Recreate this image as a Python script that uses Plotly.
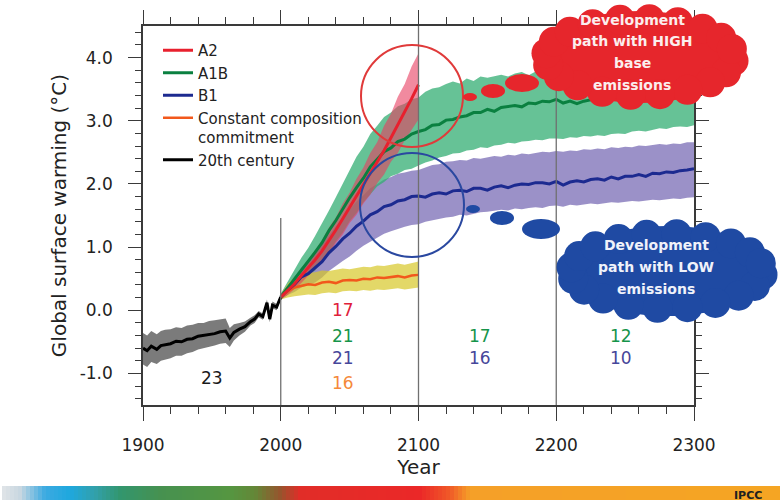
import math
import plotly.graph_objects as go

# ---------------- data ----------------
years_20c = [1900, 1903, 1906, 1910, 1913, 1916, 1920, 1924, 1928, 1932, 1936, 1940, 1944, 1948, 1952,
             1956, 1960, 1963, 1966, 1970, 1974, 1978, 1981, 1984, 1987, 1990, 1992, 1994, 1997, 2000]
c20 = [-0.60, -0.64, -0.57, -0.62, -0.56, -0.55, -0.53, -0.49, -0.50, -0.46, -0.45, -0.41, -0.40, -0.38, -0.37,
       -0.34, -0.33, -0.44, -0.35, -0.30, -0.26, -0.18, -0.14, -0.06, -0.10, 0.12, -0.14, 0.08, 0.05, 0.21]
c20_hi = [-0.36, -0.40, -0.33, -0.38, -0.33, -0.31, -0.30, -0.27, -0.28, -0.24, -0.23, -0.20, -0.20, -0.17, -0.16,
          -0.14, -0.13, -0.28, -0.22, -0.20, -0.18, -0.12, -0.08, -0.01, -0.05, 0.17, -0.09, 0.14, 0.10, 0.25]
c20_lo = [-0.86, -0.90, -0.82, -0.85, -0.80, -0.78, -0.76, -0.72, -0.72, -0.68, -0.66, -0.62, -0.60, -0.58, -0.56,
          -0.53, -0.52, -0.58, -0.48, -0.40, -0.34, -0.24, -0.20, -0.11, -0.15, 0.07, -0.19, 0.03, 0.00, 0.17]

years_21c = list(range(2000, 2101, 5))
years_ext = list(range(2000, 2301, 5))

a2 = [0.21, 0.31, 0.42, 0.55, 0.67, 0.80, 0.94, 1.10, 1.27, 1.45, 1.63, 1.80, 1.98, 2.16, 2.34, 2.53, 2.73,
      2.93, 3.14, 3.35, 3.57]
a2_hi = [0.25, 0.39, 0.51, 0.67, 0.79, 0.96, 1.11, 1.31, 1.47, 1.69, 1.86, 2.08, 2.26, 2.49, 2.66, 2.92, 3.11,
         3.38, 3.58, 3.86, 4.07]
a2_lo = [0.17, 0.24, 0.34, 0.43, 0.55, 0.64, 0.78, 0.89, 1.06, 1.20, 1.38, 1.51, 1.69, 1.83, 2.01, 2.15, 2.35,
         2.49, 2.69, 2.85, 3.02]

a1b = [0.21, 0.35, 0.49, 0.64, 0.77, 0.92, 1.07, 1.26, 1.42, 1.61, 1.78, 1.94, 2.09, 2.27, 2.39, 2.51, 2.57, 2.67, 2.71, 2.79, 2.83,
       2.86, 2.93, 2.94, 3.01, 3.02, 3.06, 3.08, 3.13, 3.13, 3.18, 3.15, 3.21, 3.23, 3.24, 3.22, 3.28, 3.27, 3.31, 3.30, 3.34,
       3.28, 3.31, 3.27, 3.31, 3.33, 3.36, 3.34, 3.38, 3.37, 3.40, 3.39, 3.42, 3.41, 3.44, 3.43, 3.46, 3.45, 3.47, 3.46, 3.48]
a1b_hi = [0.26, 0.46, 0.64, 0.83, 0.99, 1.18, 1.37, 1.58, 1.79, 2.01, 2.21, 2.43, 2.59, 2.79, 2.92, 3.06, 3.13, 3.23, 3.27, 3.34, 3.37,
          3.46, 3.51, 3.53, 3.58, 3.62, 3.59, 3.67, 3.63, 3.70, 3.68, 3.71, 3.73, 3.70, 3.75, 3.77, 3.72, 3.78, 3.76, 3.80, 3.77,
          3.81, 3.79, 3.83, 3.80, 3.85, 3.83, 3.86, 3.84, 3.88, 3.85, 3.90, 3.88, 3.89, 3.91, 3.92, 3.90, 3.94, 3.92, 3.95, 3.94]
a1b_lo = [0.16, 0.25, 0.37, 0.45, 0.56, 0.63, 0.79, 0.91, 1.09, 1.23, 1.41, 1.54, 1.71, 1.83, 1.96, 2.03, 2.12, 2.16, 2.22, 2.24, 2.29,
          2.34, 2.37, 2.42, 2.44, 2.48, 2.49, 2.53, 2.54, 2.58, 2.57, 2.61, 2.62, 2.65, 2.64, 2.67, 2.68, 2.70, 2.69, 2.72, 2.72,
          2.71, 2.74, 2.73, 2.76, 2.75, 2.77, 2.76, 2.79, 2.80, 2.79, 2.83, 2.84, 2.83, 2.86, 2.88, 2.87, 2.90, 2.91, 2.90, 2.93]

b1 = [0.21, 0.32, 0.41, 0.53, 0.58, 0.67, 0.77, 0.91, 1.01, 1.13, 1.22, 1.33, 1.41, 1.51, 1.56, 1.64, 1.67, 1.73, 1.75, 1.80, 1.81,
      1.79, 1.84, 1.86, 1.84, 1.89, 1.90, 1.88, 1.93, 1.93, 1.90, 1.95, 1.97, 1.94, 1.98, 2.00, 1.99, 2.02, 2.02, 2.00, 2.04,
      1.98, 2.03, 2.05, 2.03, 2.07, 2.08, 2.06, 2.11, 2.08, 2.12, 2.12, 2.15, 2.12, 2.17, 2.16, 2.19, 2.18, 2.21, 2.22, 2.24]
b1_hi = [0.25, 0.40, 0.54, 0.68, 0.78, 0.90, 1.05, 1.20, 1.33, 1.47, 1.59, 1.72, 1.82, 1.93, 2.00, 2.07, 2.11, 2.16, 2.18, 2.21, 2.22,
         2.26, 2.30, 2.31, 2.35, 2.36, 2.38, 2.37, 2.41, 2.40, 2.42, 2.44, 2.43, 2.46, 2.45, 2.48, 2.47, 2.49, 2.51, 2.50, 2.52,
         2.51, 2.53, 2.52, 2.55, 2.54, 2.56, 2.55, 2.58, 2.57, 2.59, 2.58, 2.61, 2.60, 2.62, 2.63, 2.62, 2.64, 2.63, 2.66, 2.66]
b1_lo = [0.17, 0.24, 0.29, 0.36, 0.40, 0.44, 0.52, 0.62, 0.70, 0.78, 0.85, 0.94, 1.02, 1.09, 1.15, 1.21, 1.25, 1.29, 1.32, 1.35, 1.36,
         1.40, 1.43, 1.45, 1.47, 1.48, 1.51, 1.50, 1.53, 1.55, 1.56, 1.57, 1.59, 1.58, 1.61, 1.60, 1.62, 1.63, 1.62, 1.65, 1.66,
         1.64, 1.67, 1.66, 1.68, 1.69, 1.68, 1.70, 1.71, 1.70, 1.72, 1.73, 1.72, 1.74, 1.75, 1.74, 1.76, 1.77, 1.76, 1.78, 1.79]

commit = [0.21, 0.30, 0.36, 0.39, 0.41, 0.40, 0.44, 0.45, 0.43, 0.47, 0.48, 0.47, 0.50, 0.49, 0.52, 0.51, 0.53,
          0.54, 0.52, 0.55, 0.56]
commit_hi = [0.25, 0.42, 0.52, 0.57, 0.59, 0.60, 0.63, 0.62, 0.64, 0.66, 0.65, 0.67, 0.69, 0.68, 0.71, 0.70, 0.72,
             0.74, 0.72, 0.75, 0.77]
commit_lo = [0.17, 0.20, 0.22, 0.24, 0.25, 0.24, 0.27, 0.28, 0.27, 0.30, 0.31, 0.30, 0.32, 0.31, 0.33, 0.32, 0.34,
             0.35, 0.33, 0.35, 0.36]

# model counts written under each period
count_text = ["23", "17", "21", "21", "16", "17", "16", "12", "10"]
count_year = [1950, 2045, 2045, 2045, 2045, 2145, 2145, 2247, 2247]
count_temp = [-1.07, 0.0, -0.40, -0.76, -1.15, -0.40, -0.76, -0.40, -0.76]
count_color = ["#1a1a1a", "#e0203a", "#16944a", "#46469a", "#f5893a", "#16944a", "#46469a", "#16944a", "#46469a"]

x_ticks = [1900, 2000, 2100, 2200, 2300]
y_ticks = [-1.0, 0.0, 1.0, 2.0, 3.0, 4.0]
y_ticktext = ["-1.0", "0.0", "1.0", "2.0", "3.0", "4.0"]

high_text = ["Development", "path with HIGH", "base", "emissions"]
low_text = ["Development", "path with LOW", "emissions"]

# ---------------- frame geometry (pixels) ----------------
W, H = 780, 502
PL, PR, PT, PB = 143, 694, 26, 405
XR = [1900, 2300]
YR = [-1.5, 4.5]
FONT = "DejaVu Sans"


def pap_x(px):
    return (px - PL) / (PR - PL)


def pap_y(py):
    return (PB - py) / (PB - PT)


def dat_x(px):
    return XR[0] + (px - PL) * (XR[1] - XR[0]) / (PR - PL)


def dat_y(py):
    return YR[1] - (py - PT) * (YR[1] - YR[0]) / (PB - PT)


fig = go.Figure()


def band(x, hi, lo, color):
    fig.add_trace(go.Scatter(x=list(x) + list(x)[::-1], y=list(hi) + list(lo)[::-1],
                             fill="toself", fillcolor=color, mode="lines", line=dict(width=0),
                             hoverinfo="skip", showlegend=False))


band(years_20c, c20_hi, c20_lo, "rgba(90,90,90,0.8)")
band(years_ext, b1_hi, b1_lo, "rgba(122,108,182,0.75)")
band(years_ext, a1b_hi, a1b_lo, "rgba(51,174,115,0.75)")
band(years_21c, commit_hi, commit_lo, "rgba(215,200,40,0.7)")
band(years_21c, a2_hi, a2_lo, "rgba(232,60,95,0.6)")


def line(x, y, color, name, rank, width=3):
    fig.add_trace(go.Scatter(x=x, y=y, mode="lines", name=name, legendrank=rank,
                             line=dict(color=color, width=width)))


line(years_20c, c20, "#000000", "20th century", 5)
line(years_21c, commit, "#f2581c", "Constant composition<br>commitment", 4, 2.5)
line(years_ext, b1, "#1c2a90", "B1", 3)
line(years_ext, a1b, "#0a8040", "A1B", 2)
line(years_21c, a2, "#e8202e", "A2", 1)

shapes = []
# period separators
for yr, top in [(2000, dat_y(218)), (2100, YR[1]), (2200, YR[1])]:
    shapes.append(dict(type="line", xref="x", yref="y", x0=yr, x1=yr, y0=YR[0], y1=top,
                       line=dict(color="#707070", width=1.3), layer="above"))

# highlight circles
for cx, cy, r, col in [(412, 96, 51, "#e03a3a"), (412, 205, 52, "#2a48a0")]:
    shapes.append(dict(type="circle", xref="x", yref="y", x0=dat_x(cx - r), x1=dat_x(cx + r),
                       y0=dat_y(cy + r), y1=dat_y(cy - r), line=dict(color=col, width=2)))


def ell(cx, cy, rx, ry, col):
    shapes.append(dict(type="circle", xref="paper", yref="paper",
                       x0=pap_x(cx - rx), x1=pap_x(cx + rx), y0=pap_y(cy + ry), y1=pap_y(cy - ry),
                       fillcolor=col, line=dict(width=0), layer="above"))


def cloud(cx, cy, hw, hh, col, lobe=15, n=20):
    ell(cx, cy, hw - 9, hh - 7, col)
    for k in range(n):
        a = 2 * math.pi * k / n + 0.1
        ell(cx + (hw - lobe) * math.cos(a), cy + (hh - lobe) * math.sin(a), lobe, lobe, col)


RED = "#e6262c"
BLUE = "#1f4aa3"
# red thought cloud
cloud(640, 57, 109, 53, RED)
for cx, cy, rx, ry in [(470, 97, 7, 4), (493, 91, 12, 7), (522, 83, 17, 9)]:
    ell(cx, cy, rx, ry, RED)

# blue thought cloud
cloud(667, 271, 111, 52, BLUE)
for cx, cy, rx, ry in [(473, 209, 7, 4), (502, 218, 12, 7), (541, 229, 19, 10)]:
    ell(cx, cy, rx, ry, BLUE)

# colour strip at the bottom
stops = [(0, (228, 230, 232)), (20, (200, 215, 225)), (45, (60, 170, 225)), (70, (30, 168, 222)),
         (95, (50, 160, 170)), (120, (50, 150, 110)), (160, (70, 145, 80)), (230, (85, 150, 65)),
         (255, (100, 135, 55)), (280, (150, 85, 45)), (300, (225, 45, 40)), (420, (235, 40, 40)),
         (450, (240, 90, 40)), (470, (245, 160, 40)), (780, (245, 165, 35))]


def strip_color(px):
    for (xa, ca), (xb, cb) in zip(stops[:-1], stops[1:]):
        if xa <= px <= xb:
            t = (px - xa) / (xb - xa)
            return "rgb(%d,%d,%d)" % tuple(round(a + (b - a) * t) for a, b in zip(ca, cb))
    return "rgb(%d,%d,%d)" % stops[-1][1]


STEP = 4
for px in range(2, 780, STEP):
    shapes.append(dict(type="rect", xref="paper", yref="paper", x0=pap_x(px), x1=pap_x(px + STEP + 0.5),
                       y0=pap_y(500), y1=pap_y(486), fillcolor=strip_color(px + STEP / 2),
                       line=dict(width=0), layer="above"))

annotations = []
for t, xx, yy, c in zip(count_text, count_year, count_temp, count_color):
    annotations.append(dict(text=t, x=xx, y=yy, xref="x", yref="y", showarrow=False,
                            font=dict(family=FONT, size=17, color=c)))
for i, t in enumerate(high_text):
    annotations.append(dict(text="<b>%s</b>" % t, x=pap_x(632), y=pap_y(20 + 21.5 * i), xref="paper",
                            yref="paper", xanchor="center", yanchor="middle", showarrow=False,
                            font=dict(family=FONT, size=14, color="#fbeeee")))
for i, t in enumerate(low_text):
    annotations.append(dict(text="<b>%s</b>" % t, x=pap_x(656), y=pap_y(245 + 22 * i), xref="paper",
                            yref="paper", xanchor="center", yanchor="middle", showarrow=False,
                            font=dict(family=FONT, size=14, color="#f0f2fa")))
annotations.append(dict(text="<b>IPCC</b>", x=pap_x(748), y=pap_y(495), xref="paper", yref="paper",
                        xanchor="center", yanchor="middle", showarrow=False,
                        font=dict(family=FONT, size=11, color="#202020")))

axis_common = dict(showline=True, linecolor="#3a3a3a", linewidth=1.5, mirror="ticks", ticks="outside",
                   tickcolor="#3a3a3a", tickwidth=1.3, showgrid=False, zeroline=False,
                   tickfont=dict(family=FONT, size=17, color="#222222"))

fig.update_layout(
    width=W, height=H,
    margin=dict(l=PL, r=W - PR, t=PT, b=H - PB, autoexpand=False),
    paper_bgcolor="white", plot_bgcolor="white",
    font=dict(family=FONT, color="#222222"),
    xaxis=dict(range=XR, tickvals=x_ticks, ticklen=14, ticklabelstandoff=10,
               minor=dict(dtick=20, tick0=1900, ticklen=7, ticks="outside", tickcolor="#3a3a3a", tickwidth=1.2),
               title=dict(text="Year", font=dict(family=FONT, size=20, color="#222222"), standoff=4),
               **axis_common),
    yaxis=dict(range=YR, tickvals=y_ticks, ticktext=y_ticktext, ticklen=13, ticklabelstandoff=12,
               minor=dict(dtick=0.2, tick0=0, ticklen=6, ticks="outside", tickcolor="#3a3a3a", tickwidth=1.2),
               title=dict(text="Global surface warming (°C)", font=dict(family=FONT, size=20, color="#222222"),
                          standoff=8),
               **axis_common),
    legend=dict(x=pap_x(158), y=pap_y(34), xanchor="left", yanchor="top", bgcolor="rgba(0,0,0,0)",
                font=dict(family=FONT, size=15, color="#222222"), valign="top", tracegroupgap=0),
    shapes=shapes,
    annotations=annotations,
)

fig.write_html("out.html", config={"displayModeBar": False},
               post_script="document.body.style.margin='0';document.body.style.overflow='hidden';")
